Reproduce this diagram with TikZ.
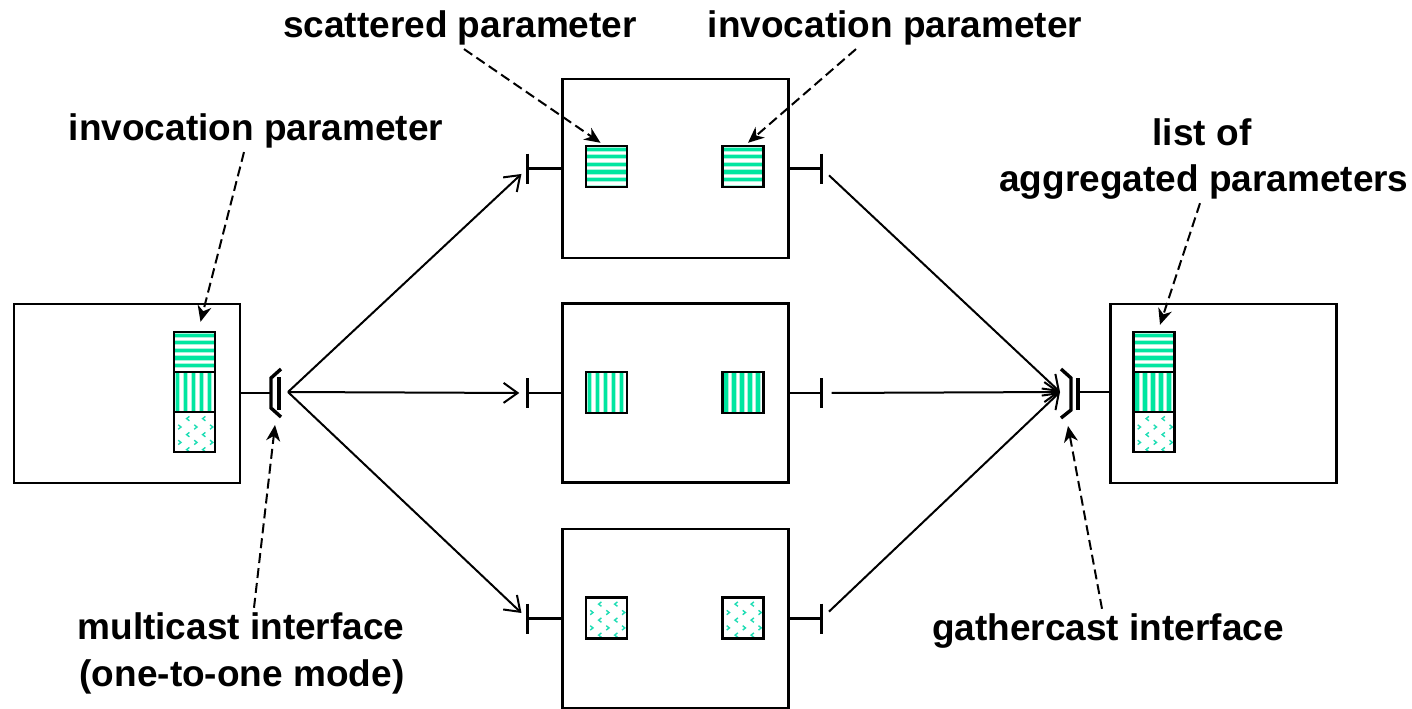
\documentclass[tikz,border=0pt]{standalone}
\usepackage{fontspec}
\setmainfont{Liberation Sans}
\usetikzlibrary{arrows.meta}

\definecolor{stripe}{HTML}{00E6A0}
\definecolor{stripelt}{HTML}{A8F5DC}
\definecolor{dotgreen}{HTML}{1EDDB4}

\tikzset{
  compbox/.style={draw, line width=1.2pt, minimum width=113pt, minimum height=89.5pt, inner sep=0pt},
  cell/.style={draw, line width=1.2pt, fill=white, minimum width=20.5pt, minimum height=20pt, inner sep=0pt},
  hstripes/.style={cell, path picture={
     \foreach \k in {0,...,5}{
       \fill[stripelt] ([yshift=-\k*3.8pt-0.3pt]path picture bounding box.north west) rectangle ([yshift=-\k*3.8pt-2.9pt]path picture bounding box.north east);
       \fill[stripe] ([yshift=-\k*3.8pt-0.8pt]path picture bounding box.north west) rectangle ([yshift=-\k*3.8pt-2.4pt]path picture bounding box.north east);
     }}},
  vstripes/.style={cell, path picture={
     \foreach \k in {0,...,5}{
       \fill[stripelt] ([xshift=\k*4pt+0.4pt]path picture bounding box.north west) rectangle ([xshift=\k*4pt+3.0pt]path picture bounding box.south west);
       \fill[stripe] ([xshift=\k*4pt+0.9pt]path picture bounding box.north west) rectangle ([xshift=\k*4pt+2.5pt]path picture bounding box.south west);
     }}},
  dots/.style={cell, path picture={
     \foreach \yy in {3.3,11.3,18.8}{\foreach \xx in {7,15}{
       \draw[dotgreen, line width=0.7pt] ([xshift=\xx*1pt+0.7pt, yshift=-\yy*1pt+1.1pt]path picture bounding box.north west) -- ++(-1.4pt,-1.1pt) -- ++(1.4pt,-1.1pt);}}
     \foreach \yy in {7.5,15.2}{\foreach \xx in {2.8,10.8,18.7}{
       \draw[dotgreen, line width=0.7pt] ([xshift=\xx*1pt-0.7pt, yshift=-\yy*1pt+1.1pt]path picture bounding box.north west) -- ++(1.4pt,-1.1pt) -- ++(-1.4pt,-1.1pt);}}
     }},
  ifbar/.style={line width=1.7pt},
  stub/.style={line width=1.1pt},
  conn/.style={line width=1pt, -{Straight Barb[length=7pt,width=10pt,line width=1pt]}},
  callout/.style={line width=1pt, dash pattern=on 5pt off 2.5pt, -{Stealth[length=8pt,width=7pt,inset=2.5pt]}},
  lbl/.style={font=\fontsize{18.5pt}{22pt}\selectfont\bfseries, inner sep=2pt, anchor=base},
}

\begin{document}
\begin{tikzpicture}[x=0.5pt, y=-0.5pt]
\useasboundingbox (0,0) rectangle (1412,708);

% components
\node[compbox] (L) at (127,393.5) {};
\node[compbox] (T) at (675.5,168.5) {};
\node[compbox] (M) at (675.5,393) {};
\node[compbox] (B) at (675.5,618.5) {};
\node[compbox] (R) at (1223.5,393.5) {};

% parameter stacks
\node[hstripes] (L1) at (194.5,352) {};
\node[vstripes] (L2) at (194.5,392) {};
\node[dots]     (L3) at (194.5,432) {};
\node[hstripes] (R1) at (1154,352) {};
\node[vstripes] (R2) at (1154,392) {};
\node[dots]     (R3) at (1154,432) {};

% parameters of the inner components
\node[hstripes, minimum height=20.5pt] (sTa) at (606.5,166.5) {};
\node[hstripes, minimum height=20.5pt] (sTb) at (743,166.5) {};
\node[vstripes, minimum height=20.5pt] (sMa) at (606.5,392.5) {};
\node[vstripes, minimum height=20.5pt] (sMb) at (743,392.5) {};
\node[dots, minimum height=20.5pt] (sBa) at (606.5,618) {};
\node[dots, minimum height=20.5pt] (sBb) at (743,618) {};

% interfaces of the inner components
\foreach \b in {T,M,B}{
  \coordinate (\b in) at ([xshift=-17pt]\b.west);
  \coordinate (\b out) at ([xshift=16pt]\b.east);
  \draw[stub] (\b in) -- (\b.west);
  \draw[stub] (\b.east) -- (\b out);
  \draw[ifbar] ([yshift=7.5pt]\b in) -- ([yshift=-7.5pt]\b in);
  \draw[ifbar] ([yshift=7.5pt]\b out) -- ([yshift=-7.5pt]\b out);
}

% multicast interface
\coordinate (mcs) at (271,393);
\coordinate (mc) at (288,392);
\draw[stub] (L.east |- mcs) -- (mcs);
\draw[ifbar] (281,369) -- (271,378) -- (271,408) -- (281,417);
\draw[ifbar] (279,377) -- (279,410);

% gathercast interface
\coordinate (gcs) at (1078,392);
\coordinate (gc) at (1060,392);
\draw[stub] (gcs) -- (R.west |- gcs);
\draw[ifbar] (1061,369) -- (1071,378) -- (1071,410) -- (1061,418);
\draw[ifbar] (1078,378) -- (1078,410);

% bindings
\foreach \b in {T,M,B}{
  \draw[conn, shorten >=4pt] (mc) -- (\b in);
  \draw[conn, shorten <=5pt] (\b out) -- (gc);
}

% labels
\node[lbl] (sc)  at (460,37)  {scattered parameter};
\node[lbl] (ipa) at (895,37)  {invocation parameter};
\node[lbl] (ipb) at (256,140) {invocation parameter};
\node[lbl] (lo1) at (1202,145) {list of};
\node[lbl] (lo2) at (1204,191) {aggregated parameters};
\node[lbl] (mc1) at (241,639) {multicast interface};
\node[lbl] (mc2) at (242,686) {(one-to-one mode)};
\node[lbl] (gcl) at (1108,640) {gathercast interface};

\coordinate (mcfoot) at (275,425);
\coordinate (gcfoot) at (1068,426);

% callouts
\draw[callout] ([xshift=2pt]sc.south) -- ([xshift=-3pt,yshift=1pt]sTa.north);
\draw[callout] ([xshift=-19.5pt]ipa.south) -- ([xshift=2.5pt,yshift=1pt]sTb.north);
\draw[callout] ([xshift=-6pt]ipb.south) -- ([xshift=3pt,yshift=4.5pt]L1.north);
\draw[callout] ([xshift=-2pt]lo2.south) -- ([xshift=3pt,yshift=3pt]R1.north);
\draw[callout] ([xshift=6.5pt]mc1.north) -- (mcfoot);
\draw[callout] ([xshift=-3pt]gcl.north) -- (gcfoot);
\end{tikzpicture}
\end{document}
